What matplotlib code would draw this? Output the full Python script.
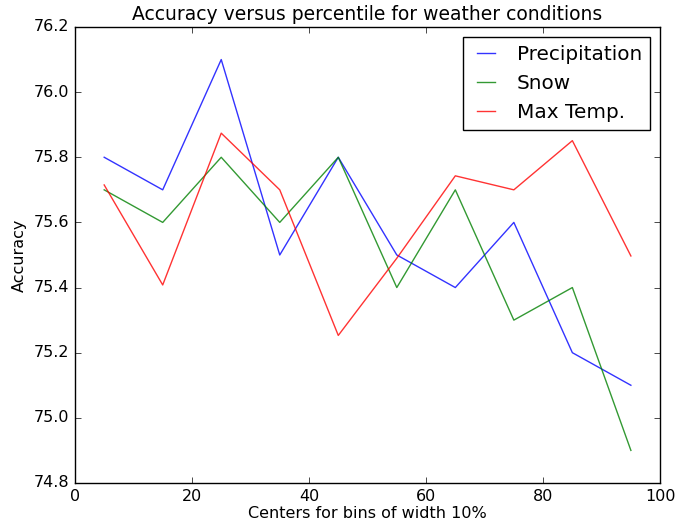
import matplotlib
matplotlib.use('Agg')
import matplotlib.pyplot as plt

plt.style.use('classic')

centers = [5, 15, 25, 35, 45, 55, 65, 75, 85, 95]
precip = [75.8, 75.7, 76.1, 75.5, 75.8, 75.5, 75.4, 75.6, 75.2, 75.1]
snow = [75.7, 75.6, 75.8, 75.6, 75.8, 75.4, 75.7, 75.3, 75.4, 74.9]
maxtemp = [75.715, 75.408, 75.874, 75.70, 75.253, 75.49, 75.743, 75.70, 75.851, 75.497]

fig = plt.figure(figsize=(6.75, 5.29), dpi=100)
fig.subplots_adjust(left=0.111, right=0.978, top=0.949, bottom=0.087)
ax = fig.add_subplot(111)
ax.plot(centers, precip, 'b', alpha=0.8, label='Precipitation')
ax.plot(centers, snow, 'g', alpha=0.8, label='Snow')
ax.plot(centers, maxtemp, 'r', alpha=0.8, label='Max Temp.')
ax.set_xlim(0, 100)
ax.set_ylim(74.8, 76.2)
ax.tick_params(labelsize=11.5)
ax.set_title('Accuracy versus percentile for weather conditions', fontsize=13.5)
ax.set_xlabel('Centers for bins of width 10%', fontsize=11.5, labelpad=2)
ax.set_ylabel('Accuracy', fontsize=11.5)
ax.legend(handlelength=1.5, fontsize=14.4)
fig.savefig('out.png', dpi=100)
